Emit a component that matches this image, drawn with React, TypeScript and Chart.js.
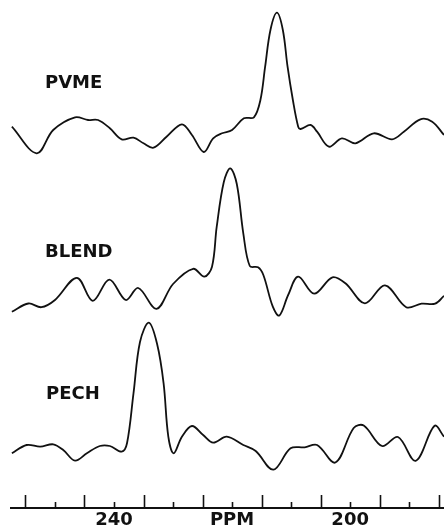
import { useEffect, useRef } from "react";
import { Chart, registerables } from "chart.js";

Chart.register(...registerables);

// Chemical shift (ppm) and intensity for each spectrum
const pvmePpm = [257.3, 253.1, 250.3, 246.6, 244.4, 242.7, 240.7, 238.7, 236.7, 235.0, 233.3, 231.1, 228.5, 226.8, 224.8, 223.2, 221.7, 220.0, 218.0, 216.3, 215.2, 214.4, 213.5, 212.4, 211.4, 210.6, 209.7, 208.8, 208.4, 206.7, 205.6, 203.6, 201.4, 199.1, 196.0, 192.9, 190.9, 188.1, 186.1, 184.1];
const pvmeIntensity = [13.3, -13.3, 10, 22.7, 20, 20, 11.7, 0.7, 2.3, -3.3, -7.7, 3.3, 15.7, 5, -12, 1.7, 6.7, 10, 21.7, 22.7, 40, 73.3, 110, 127.3, 110, 73.3, 40, 13.3, 11, 15, 8.3, -6.7, 1.7, -3.3, 6.7, 0.7, 8.3, 20.7, 18.3, 5];

const blendPpm = [257.3, 254.5, 252.3, 250.0, 246.3, 243.6, 240.8, 238.0, 235.9, 232.8, 230.0, 226.6, 224.7, 223.4, 222.6, 221.4, 220.3, 219.2, 218.1, 217.0, 215.6, 214.7, 213.1, 212.0, 210.5, 208.8, 206.1, 203.0, 200.8, 197.5, 194.1, 190.5, 187.9, 185.6, 184.1];
const blendIntensity = [-11.7, -3.5, -7.2, 0, 22.2, -0.8, 20.4, 0, 12, -8.8, 16, 31.2, 23.3, 33.3, 73.3, 118, 131.7, 116, 66.7, 34, 32.7, 25, -6.7, -15.5, 5, 23.3, 6.3, 22.7, 16.7, -3.3, 14.7, -7.2, -3.7, -3.7, 4.2];

const pechPpm = [257.3, 254.8, 252.5, 250.3, 248.6, 246.6, 244.6, 242.4, 240.7, 238.7, 237.8, 236.7, 235.6, 234.1, 232.7, 231.6, 230.8, 229.9, 228.5, 226.8, 224.9, 223.2, 220.9, 218.1, 216.0, 213.0, 210.1, 207.7, 205.6, 202.5, 199.4, 197.7, 194.6, 191.9, 188.9, 185.7, 184.1];
const pechIntensity = [-3.3, 5, 3.3, 5.7, 0, -10.7, -3.3, 4, 4, -1.7, 6.7, 56.7, 108, 127.3, 106, 66.7, 13.3, -3.3, 13.3, 24, 15, 7.3, 13.3, 5, -1, -19.7, 1.7, 2.7, 5, -12.5, 22, 24.5, 4, 13, -10.8, 24.2, 13.3];

const spectrumNames = ["PVME", "BLEND", "PECH"];
const tickLabels: Record<number, string> = { 240: "240", 220: "PPM", 200: "200" };

// Vertical stacking of the three traces
const stackOffsets = [368, 208, 58];
const namePositions = [
  { x: 45, y: 87.5 },
  { x: 45, y: 257 },
  { x: 46, y: 399 },
];

const INK = "#111";
const FONT = "'DejaVu Sans', 'Liberation Sans', sans-serif";

function toPoints(ppm: number[], intensity: number[], offset: number) {
  return ppm.map((p, i) => ({ x: p, y: intensity[i] + offset }));
}

const tickMarks = {
  id: "tickMarks",
  afterDraw(chart: any) {
    const xs = chart.scales.x;
    const ctx = chart.ctx;
    ctx.save();
    ctx.strokeStyle = INK;
    ctx.lineWidth = 1.6;
    for (const t of xs.ticks) {
      const v = Math.round(t.value);
      const px = Math.round(xs.getPixelForValue(v)) + 0.5;
      const tall = v % 10 === 5;
      ctx.beginPath();
      ctx.moveTo(px, xs.top);
      ctx.lineTo(px, xs.top - (tall ? 13 : 6));
      ctx.stroke();
    }
    ctx.restore();
  },
};

const spectrumNamesPlugin = {
  id: "spectrumNames",
  afterDraw(chart: any) {
    const ctx = chart.ctx;
    ctx.save();
    ctx.fillStyle = INK;
    ctx.font = `bold 18px ${FONT}`;
    ctx.textAlign = "left";
    ctx.textBaseline = "alphabetic";
    spectrumNames.forEach((name, i) => {
      ctx.fillText(name, namePositions[i].x, namePositions[i].y);
    });
    ctx.restore();
  },
};

export default function App() {
  const canvasRef = useRef<HTMLCanvasElement | null>(null);

  useEffect(() => {
    if (!canvasRef.current) return;
    const lineStyle = {
      borderColor: INK,
      borderWidth: 1.8,
      pointRadius: 0,
      fill: false,
      tension: 0.35,
    };
    const chart = new Chart(canvasRef.current, {
      type: "line",
      data: {
        datasets: [
          { label: spectrumNames[0], data: toPoints(pvmePpm, pvmeIntensity, stackOffsets[0]), ...lineStyle },
          { label: spectrumNames[1], data: toPoints(blendPpm, blendIntensity, stackOffsets[1]), ...lineStyle },
          { label: spectrumNames[2], data: toPoints(pechPpm, pechIntensity, stackOffsets[2]), ...lineStyle },
        ],
      },
      options: {
        animation: false,
        responsive: true,
        maintainAspectRatio: false,
        layout: { padding: { left: 11, right: 0, top: 0, bottom: 0 } },
        plugins: {
          legend: { display: false },
          tooltip: { enabled: false },
        },
        scales: {
          x: {
            type: "linear",
            reverse: true,
            min: 184.1,
            max: 257.45,
            grid: { display: true, drawOnChartArea: false, drawTicks: false },
            border: { display: true, color: INK, width: 2 },
            afterFit: (scale: any) => {
              scale.height = 20;
            },
            ticks: {
              stepSize: 5,
              includeBounds: false,
              autoSkip: false,
              maxRotation: 0,
              padding: 3,
              color: INK,
              font: { family: FONT, size: 18, weight: "bold", lineHeight: 1 },
              callback: (value: any) => tickLabels[Math.round(Number(value))] ?? "",
            },
          },
          y: {
            type: "linear",
            display: false,
            min: 0,
            max: 508,
          },
        },
      },
      plugins: [tickMarks, spectrumNamesPlugin],
    });
    return () => chart.destroy();
  }, []);

  return (
    <div style={{ position: "fixed", left: 0, top: 0, width: 444, height: 528, background: "#fff" }}>
      <canvas ref={canvasRef} />
    </div>
  );
}
